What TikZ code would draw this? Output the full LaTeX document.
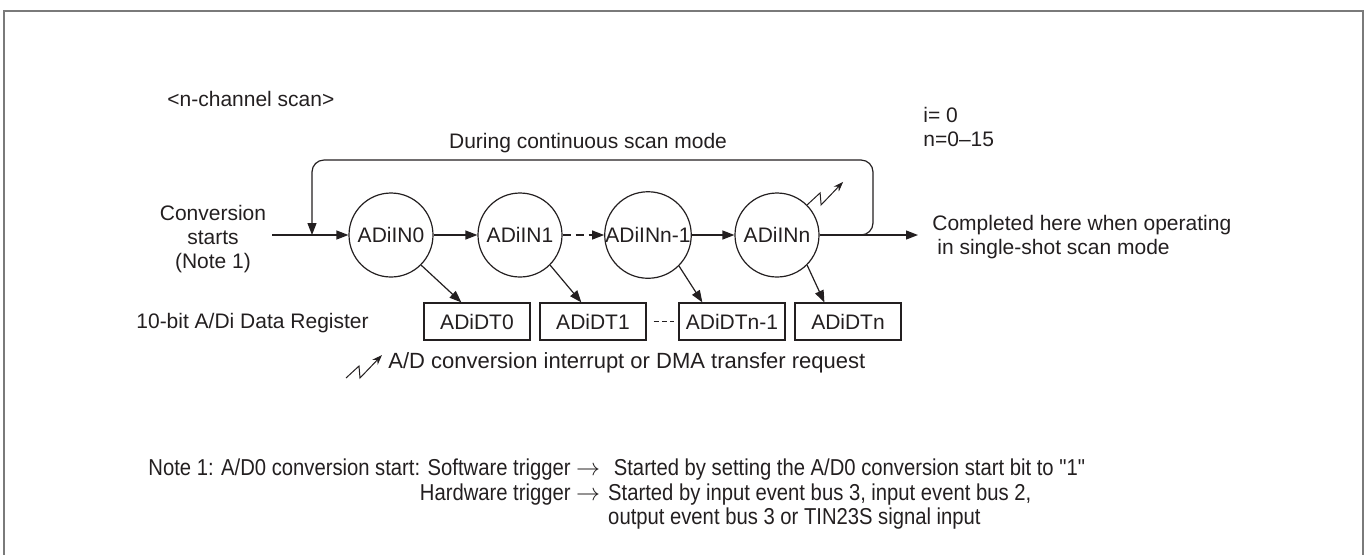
\documentclass[tikz,border=0pt]{standalone}
\usepackage{fontspec}
\setmainfont{Liberation Sans}
\newfontfamily\notefont[FakeStretch=0.88]{Liberation Sans}
\usetikzlibrary{arrows.meta,positioning,calc}
\definecolor{ink}{HTML}{231F20}
\definecolor{framegray}{HTML}{7A7A7A}
\tikzset{
  lbl/.style={font=\fontsize{10.5}{12}\selectfont,text=ink,inner sep=0pt},
  notes/.style={font=\notefont\fontsize{11.5}{12.3}\selectfont,text=ink,inner sep=0pt},
  stage/.style={circle,draw=ink,line width=0.6pt,minimum size=42pt,inner sep=0pt,font=\fontsize{10.5}{12}\selectfont,text=ink},
  reg/.style={draw=ink,line width=0.6pt,minimum width=53pt,minimum height=18.5pt,inner sep=0pt,font=\fontsize{10.5}{12}\selectfont,text=ink},
  arr/.style={-{Triangle[length=6pt,width=4.5pt]},draw=ink,line width=0.6pt},
  irqarr/.style={-{Stealth[length=5pt,width=3.6pt]},draw=ink,line width=0.5pt},
  irq/.pic={\draw[irqarr] (0,0) -- (13,-12) -- (14,0) -- (36,-23);}
}
\begin{document}
\begin{tikzpicture}[x=0.5pt,y=-0.5pt]
\path[use as bounding box] (0,0) rectangle (1367,554);
\draw[framegray,line width=1pt] (4,600) -- (4,11) -- (1363,11) -- (1363,600);
\node[lbl,anchor=west] (title) at (167,99) {<n-channel scan>};
\node[lbl,anchor=west,align=left] (range) at (923,127) {i= 0\\n=0--15};
% scan chain
\node[stage] (in0) at (391,235) {ADiIN0};
\node[stage] (in1) at (520,235) {ADiIN1};
\node[stage] (inn1) at (648,235) {ADiINn-1};
\node[stage] (inn) at (777,235) {ADiINn};
\coordinate (start) at (272,235);
\coordinate (done) at (918,235);
\coordinate (loopr) at (873,160);
\coordinate (loopl) at (312,160);
\node[lbl,align=center] (conv) at (213,239) {Conversion\\starts\\(Note 1)};
\draw[arr] (start) -- (in0);
\draw[arr] (in0) -- (in1);
\draw[arr,dash pattern=on 4pt off 2.5pt] (in1) -- (inn1);
\draw[arr] (inn1) -- (inn);
\draw[arr] (inn) -- (done);
\draw[arr,rounded corners=6pt] (inn.east) -| (loopr) -- (loopl) -- (loopl |- in0);
\node[lbl] (cont) at (588,143) {During continuous scan mode};
\node[lbl,anchor=west,align=left] (single) at (932,237) {Completed here when operating\\\hspace*{2.5pt}in single-shot scan mode};
\pic at (inn.45) {irq};
% data registers
\node[lbl,anchor=west] (dtlbl) at (136,323) {10-bit A/Di Data Register};
\node[reg] (dt0) at (477,321.5) {ADiDT0};
\node[reg] (dt1) at (593,321.5) {ADiDT1};
\node[reg] (dtn1) at (732,321.5) {ADiDTn-1};
\node[reg] (dtn) at (848,321.5) {ADiDTn};
\draw[ink,line width=0.6pt,dash pattern=on 2.5pt off 1.6pt,shorten <=3.5pt,shorten >=2pt] (dt1) -- (dtn1);
\foreach \s/\d/\o in {in0/dt0/38,in1/dt1/42,inn1/dtn1/24,inn/dtn/30}
  \draw[arr] (\s.-45) -- ([xshift=\o*0.5pt]\d.north west);
% legend and note
\pic at (346,378) {irq};
\node[lbl,anchor=west,font=\fontsize{11}{12}\selectfont] (irqlbl) at (388,363) {A/D conversion interrupt or DMA transfer request};
\node[notes,anchor=north west] (note) at (148,458) {%
\begin{tabular}{@{}r@{\hspace{4pt}}l@{}}
Note 1: A/D0 conversion start: Software trigger $\rightarrow$ & \ Started by setting the A/D0 conversion start bit to "1"\\
Hardware trigger $\rightarrow$ & Started by input event bus 3, input event bus 2,\\
 & output event bus 3 or TIN23S signal input
\end{tabular}};
\end{tikzpicture}
\end{document}
